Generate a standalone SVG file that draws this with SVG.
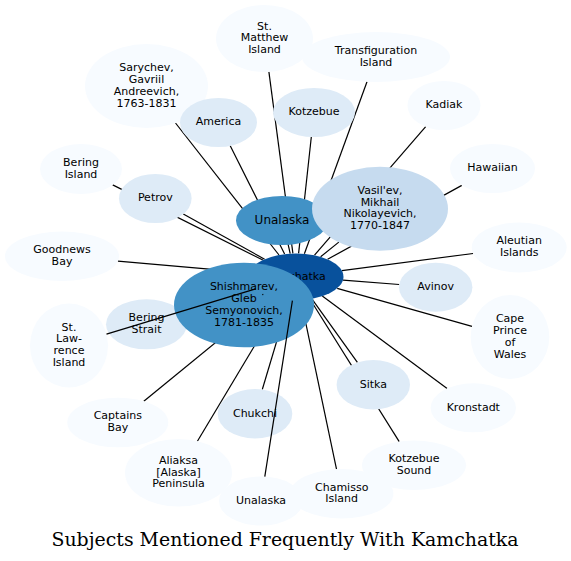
<svg xmlns="http://www.w3.org/2000/svg" width="571" height="561" viewBox="0 0 571 561">
<style>
.n0{fill:#f7fbff}.n1{fill:#deebf7}.n2{fill:#c6dbef}.n5{fill:#4292c6}.n7{fill:#08519c}
text.l{font-family:"DejaVu Sans",sans-serif;font-size:11px;text-anchor:middle;fill:#000}
.e line{stroke:#000;stroke-width:1.2;fill:none}
.title{font-family:"DejaVu Serif",serif;font-size:18.9px;text-anchor:middle;fill:#000}
</style>
<rect width="571" height="561" fill="#fff"/>
<g id="edges" class="e">
<line x1="292.9" y1="253.4" x2="268.9" y2="71.9"/>
<line x1="304.4" y1="253.8" x2="367" y2="81.8"/>
<line x1="279" y1="255" x2="175.5" y2="123"/>
<line x1="284.6" y1="254.1" x2="230.2" y2="145.8"/>
<line x1="298.6" y1="253.4" x2="311.3" y2="137"/>
<line x1="314.5" y1="255.2" x2="425.7" y2="126.7"/>
<line x1="327.6" y1="259.3" x2="461.8" y2="185.4"/>
<line x1="320.6" y1="256.8" x2="338.8" y2="242.1"/>
<line x1="341.9" y1="270.7" x2="473.1" y2="253.5"/>
<line x1="262.8" y1="260.05" x2="112.7" y2="184.9"/>
<line x1="264.6" y1="259.2" x2="183.3" y2="214.1"/>
<line x1="290.2" y1="253.6" x2="288.05" y2="244.2"/>
<line x1="249.2" y1="272.6" x2="117.9" y2="261.2"/>
<line x1="256.2" y1="289.4" x2="182.5" y2="312.8"/>
<line x1="343" y1="280.2" x2="399.2" y2="284.5"/>
<line x1="337.2" y1="288.3" x2="472" y2="326.3"/>
<line x1="311.7" y1="298.7" x2="357.4" y2="362.4"/>
<line x1="309.9" y1="299" x2="399.2" y2="441.6"/>
<line x1="322.3" y1="296.1" x2="447.1" y2="388.4"/>
<line x1="271.6" y1="296.7" x2="143.8" y2="401.2"/>
<line x1="289.1" y1="299.8" x2="262.3" y2="389.5"/>
<line x1="282.6" y1="299.05" x2="197.4" y2="441.2"/>
<line x1="300.9" y1="299.9" x2="336.5" y2="469.1"/>
</g>
<g id="node-transfiguration"><ellipse class="n0" cx="376" cy="57" rx="74" ry="25"/><text class="l"><tspan x="376" y="53.9">Transfiguration</tspan><tspan x="376" y="65.7">Island</tspan></text></g>
<g id="node-stmatthew"><ellipse class="n0" cx="264.5" cy="38.5" rx="48.5" ry="33.5"/><text class="l"><tspan x="264.5" y="29.5">St.</tspan><tspan x="264.5" y="41.3">Matthew</tspan><tspan x="264.5" y="53.1">Island</tspan></text></g>
<g id="node-sarychev"><ellipse class="n0" cx="146.5" cy="86" rx="61.5" ry="42"/><text class="l"><tspan x="146.5" y="71.1">Sarychev,</tspan><tspan x="146.5" y="82.9">Gavriil</tspan><tspan x="146.5" y="94.7">Andreevich,</tspan><tspan x="146.5" y="106.5">1763-1831</tspan></text></g>
<g id="node-america"><ellipse class="n1" cx="218.5" cy="122.5" rx="38.5" ry="24.5"/><text class="l" x="218.5" y="125.3">America</text></g>
<g id="node-kotzebue"><ellipse class="n1" cx="314" cy="112.5" rx="41" ry="24.5"/><text class="l" x="314" y="115.3">Kotzebue</text></g>
<g id="node-kadiak"><ellipse class="n0" cx="444" cy="105.5" rx="36.5" ry="24.5"/><text class="l" x="444" y="108.3">Kadiak</text></g>
<g id="node-hawaiian"><ellipse class="n0" cx="492.5" cy="168.5" rx="42.5" ry="24.5"/><text class="l" x="492.5" y="171.3">Hawaiian</text></g>
<g id="node-beringisland"><ellipse class="n0" cx="81" cy="169" rx="41" ry="25"/><text class="l"><tspan x="81" y="165.9">Bering</tspan><tspan x="81" y="177.7">Island</tspan></text></g>
<g id="node-petrov"><ellipse class="n1" cx="155.3" cy="198.5" rx="36.3" ry="24.5"/><text class="l" x="155.3" y="201.3">Petrov</text></g>
<g id="node-unalaska1"><ellipse class="n5" cx="282" cy="220.5" rx="46" ry="24.5"/><text class="l" x="282" y="224" style="font-size:12px">Unalaska</text></g>
<g id="node-vasilev"><ellipse class="n2" cx="380" cy="208.7" rx="68" ry="42"/><text class="l"><tspan x="380" y="193.8">Vasil'ev,</tspan><tspan x="380" y="205.6">Mikhail</tspan><tspan x="380" y="217.4">Nikolayevich,</tspan><tspan x="380" y="229.2">1770-1847</tspan></text></g>
<g id="node-aleutian"><ellipse class="n0" cx="519.2" cy="247.5" rx="47.5" ry="25"/><text class="l"><tspan x="519.2" y="244.4">Aleutian</tspan><tspan x="519.2" y="256.2">Islands</tspan></text></g>
<g id="node-goodnews"><ellipse class="n0" cx="62" cy="256.3" rx="57" ry="24.7"/><text class="l"><tspan x="62" y="253.2">Goodnews</tspan><tspan x="62" y="265">Bay</tspan></text></g>
<g id="node-kamchatka"><ellipse class="n7" cx="296" cy="276.7" rx="47.5" ry="23.3"/><text class="l" x="295" y="279.5">Kamchatka</text></g>
<g id="node-stlawrence"><ellipse class="n0" cx="69" cy="345.5" rx="39" ry="42"/><text class="l"><tspan x="69" y="330.6">St.</tspan><tspan x="69" y="342.4">Law-</tspan><tspan x="69" y="354.2">rence</tspan><tspan x="69" y="366">Island</tspan></text></g>
<g id="node-beringstrait"><ellipse class="n1" cx="146.5" cy="324.3" rx="40.5" ry="25"/><text class="l"><tspan x="146.5" y="321.2">Bering</tspan><tspan x="146.5" y="333">Strait</tspan></text></g>
<g id="node-shishmarev"><ellipse class="n5" cx="244" cy="305" rx="70" ry="42.3"/><text class="l"><tspan x="244" y="290.1">Shishmarev,</tspan><tspan x="244" y="301.9">Gleb</tspan><tspan x="244" y="313.7">Semyonovich,</tspan><tspan x="244" y="325.5">1781-1835</tspan></text></g>
<g id="node-avinov"><ellipse class="n1" cx="435.7" cy="287.2" rx="36.7" ry="24.5"/><text class="l" x="435.7" y="290">Avinov</text></g>
<g id="node-capeprince"><ellipse class="n0" cx="510" cy="337" rx="39.3" ry="42"/><text class="l"><tspan x="510" y="322.1">Cape</tspan><tspan x="510" y="333.9">Prince</tspan><tspan x="510" y="345.7">of</tspan><tspan x="510" y="357.5">Wales</tspan></text></g>
<g id="node-sitka"><ellipse class="n1" cx="373.3" cy="384.7" rx="36.7" ry="24.7"/><text class="l" x="373.3" y="387.5">Sitka</text></g>
<g id="node-kronstadt"><ellipse class="n0" cx="473.3" cy="407.8" rx="42.7" ry="24.5"/><text class="l" x="473.3" y="410.6">Kronstadt</text></g>
<g id="node-captainsbay"><ellipse class="n0" cx="117.8" cy="422.5" rx="50.5" ry="24.8"/><text class="l"><tspan x="117.8" y="419.4">Captains</tspan><tspan x="117.8" y="431.2">Bay</tspan></text></g>
<g id="node-chukchi"><ellipse class="n1" cx="255" cy="413.7" rx="37.3" ry="24.7"/><text class="l" x="255" y="416.5">Chukchi</text></g>
<g id="node-aliaksa"><ellipse class="n0" cx="178.5" cy="472.8" rx="53.5" ry="33.8"/><text class="l"><tspan x="178.5" y="463.8">Aliaksa</tspan><tspan x="178.5" y="475.6">[Alaska]</tspan><tspan x="178.5" y="487.4">Peninsula</tspan></text></g>
<g id="node-kotzebuesound"><ellipse class="n0" cx="414" cy="465.3" rx="52" ry="24.7"/><text class="l"><tspan x="414" y="462.2">Kotzebue</tspan><tspan x="414" y="474">Sound</tspan></text></g>
<g id="node-chamisso"><ellipse class="n0" cx="341.7" cy="493.7" rx="51.7" ry="24.7"/><text class="l"><tspan x="341.7" y="490.6">Chamisso</tspan><tspan x="341.7" y="502.4">Island</tspan></text></g>
<g id="node-unalaska2"><ellipse class="n0" cx="261" cy="501" rx="42" ry="24.5"/><text class="l" x="261" y="503.8">Unalaska</text></g>
<g id="edges-over" class="e">
<line x1="255.6" y1="288.9" x2="106.5" y2="334.1"/>
<line x1="292.4" y1="300.6" x2="264.8" y2="476.6"/>
<line x1="262.3" y1="294.8" x2="263.3" y2="294.4"/>
</g>
<text class="title" x="285" y="546">Subjects Mentioned Frequently With Kamchatka</text>
</svg>
